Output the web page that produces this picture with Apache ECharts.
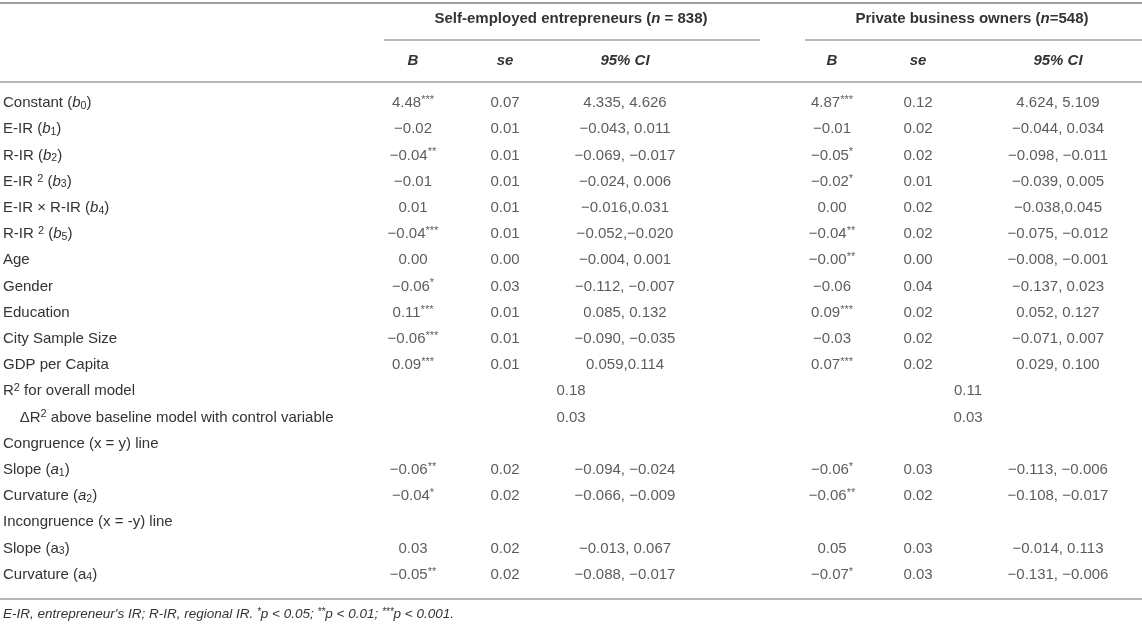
<!DOCTYPE html>
<html>
<head>
<meta charset="utf-8">
<script src="https://cdn.jsdelivr.net/npm/echarts/dist/echarts.min.js"></script>
<style>html,body{margin:0;padding:0;background:#fff}#c{width:1142px;height:626px}</style>
</head>
<body>
<div id="c"></div>
<script>
// ---------- data ----------
const ROW_LABELS = [
  'Constant ({i|b}{sub|0})',
  'E-IR ({i|b}{sub|1})',
  'R-IR ({i|b}{sub|2})',
  'E-IR {sup|2} ({i|b}{sub|3})',
  'E-IR × R-IR ({i|b}{sub|4})',
  'R-IR {sup|2} ({i|b}{sub|5})',
  'Age',
  'Gender',
  'Education',
  'City Sample Size',
  'GDP per Capita',
  'R{sup|2} for overall model',
  '    ΔR{sup|2} above baseline model with control variable',
  'Congruence (x = y) line',
  'Slope ({i|a}{sub|1})',
  'Curvature ({i|a}{sub|2})',
  'Incongruence (x = -y) line',
  'Slope (a{sub|3})',
  'Curvature (a{sub|4})'
];
const GROUPS = ['Self-employed entrepreneurs ({bi|n} = 838)', 'Private business owners ({bi|n}=548)'];
const SUBHEADS = ['B', 'se', '95% CI'];

const B_SELF   = ['4.48','−0.02','−0.04','−0.01','0.01','−0.04','0.00','−0.06','0.11','−0.06','0.09','','','','−0.06','−0.04','','0.03','−0.05'];
const SIG_SELF = [3,0,2,0,0,3,0,1,3,3,3,0,0,0,2,1,0,0,2];
const SE_SELF  = ['0.07','0.01','0.01','0.01','0.01','0.01','0.00','0.03','0.01','0.01','0.01','','','','0.02','0.02','','0.02','0.02'];
const CI_SELF  = ['4.335, 4.626','−0.043, 0.011','−0.069, −0.017','−0.024, 0.006','−0.016,0.031','−0.052,−0.020','−0.004, 0.001','−0.112, −0.007','0.085, 0.132','−0.090, −0.035','0.059,0.114','','','','−0.094, −0.024','−0.066, −0.009','','−0.013, 0.067','−0.088, −0.017'];

const B_PRIV   = ['4.87','−0.01','−0.05','−0.02','0.00','−0.04','−0.00','−0.06','0.09','−0.03','0.07','','','','−0.06','−0.06','','0.05','−0.07'];
const SIG_PRIV = [3,0,1,1,0,2,2,0,3,0,3,0,0,0,1,2,0,0,1];
const SE_PRIV  = ['0.12','0.02','0.02','0.01','0.02','0.02','0.00','0.04','0.02','0.02','0.02','','','','0.03','0.02','','0.03','0.03'];
const CI_PRIV  = ['4.624, 5.109','−0.044, 0.034','−0.098, −0.011','−0.039, 0.005','−0.038,0.045','−0.075, −0.012','−0.008, −0.001','−0.137, 0.023','0.052, 0.127','−0.071, 0.007','0.029, 0.100','','','','−0.113, −0.006','−0.108, −0.017','','−0.014, 0.113','−0.131, −0.006'];

const R2_ROWS = [11, 12];
const R2_SELF = ['0.18', '0.03'];
const R2_PRIV = ['0.11', '0.03'];

const FOOTNOTE = 'E-IR, entrepreneur\'s IR; R-IR, regional IR. {fs|*}p < 0.05; {fs|**}p < 0.01; {fs|***}p < 0.001.';

// ---------- layout ----------
const W = 1142, H = 626;
const FONT = '"Liberation Sans", Arial, Helvetica, sans-serif';
const FS = 15;
const TXT = '#333333';
const RULE = '#a0a0a0';
const COL_X = [413, 505, 625, 832, 918, 1058];
const R2_X = [571, 968];
const GROUP_X = [571, 972];
const GROUP_LINE = [[384, 760], [805, 1142]];
const Y_TOP = 3, Y_GROUP = 19, Y_GLINE = 40, Y_SUB = 61, Y_HLINE = 82, Y_BOT = 599, Y_FOOT = 614;
const ROW_H = 26.2, FIRST_ROW = 103;
const GRID_TOP = FIRST_ROW - ROW_H / 2;

const RICH = {
  i:   { fontFamily: FONT, fontSize: FS, fontStyle: 'italic', color: TXT, lineHeight: 17 },
  sub: { fontFamily: FONT, fontSize: 10.5, color: TXT, lineHeight: 8, verticalAlign: 'bottom' },
  sup: { fontFamily: FONT, fontSize: 11, color: TXT, lineHeight: 10, verticalAlign: 'top' },
  bi:  { fontFamily: FONT, fontSize: FS, fontStyle: 'italic', fontWeight: 'bold', color: TXT, lineHeight: 17 },
  fs:  { fontFamily: FONT, fontSize: 10, fontStyle: 'italic', color: TXT, lineHeight: 10, verticalAlign: 'top' }
};

function stars(n) { return n > 0 ? '{sup|' + '*'.repeat(n) + '}' : ''; }

const columns = [
  B_SELF.map((v, i) => v ? v + stars(SIG_SELF[i]) : ''),
  SE_SELF,
  CI_SELF,
  B_PRIV.map((v, i) => v ? v + stars(SIG_PRIV[i]) : ''),
  SE_PRIV,
  CI_PRIV
];

const cells = [];
columns.forEach((col, c) => {
  col.forEach((t, r) => { if (t) cells.push({ value: [COL_X[c], r], txt: t }); });
});
R2_ROWS.forEach((r, k) => {
  cells.push({ value: [R2_X[0], r], txt: R2_SELF[k] });
  cells.push({ value: [R2_X[1], r], txt: R2_PRIV[k] });
});

// ---------- graphic (rules & headers) ----------
const rule = (x1, y, x2, w) => ({
  type: 'line', silent: true,
  shape: { x1: x1, y1: y, x2: x2, y2: y },
  style: { stroke: RULE, lineWidth: w || 1.5 }
});
const text = (t, x, y, extra) => ({
  type: 'text', silent: true, x: x, y: y,
  style: Object.assign({
    text: t, fill: TXT, fontFamily: FONT, fontSize: FS,
    align: 'center', verticalAlign: 'middle', rich: RICH
  }, extra || {})
});

const graphics = [
  rule(0, Y_TOP, W, 2),
  rule(GROUP_LINE[0][0], Y_GLINE, GROUP_LINE[0][1]),
  rule(GROUP_LINE[1][0], Y_GLINE, GROUP_LINE[1][1]),
  rule(0, Y_HLINE, W),
  rule(0, Y_BOT, W),
  text(GROUPS[0], GROUP_X[0], Y_GROUP, { fontWeight: 'bold' }),
  text(GROUPS[1], GROUP_X[1], Y_GROUP, { fontWeight: 'bold' }),
  text(FOOTNOTE, 3, Y_FOOT, { align: 'left', fontStyle: 'italic', fontSize: 13.5 })
];
COL_X.forEach((x, c) => {
  graphics.push(text(SUBHEADS[c % 3], x, Y_SUB, { fontWeight: 'bold', fontStyle: 'italic' }));
});

// ---------- chart ----------
const chart = echarts.init(document.getElementById('c'), null, { renderer: 'canvas' });
chart.setOption({
  animation: false,
  backgroundColor: '#ffffff',
  grid: { left: 0, right: 0, top: GRID_TOP, height: ROW_H * ROW_LABELS.length, containLabel: false },
  xAxis: { type: 'value', min: 0, max: W, show: false },
  yAxis: {
    type: 'category', inverse: true, data: ROW_LABELS,
    axisLine: { show: false }, axisTick: { show: false }, splitLine: { show: false },
    axisLabel: {
      interval: 0, align: 'left', margin: -3,
      color: TXT, fontFamily: FONT, fontSize: FS, lineHeight: 17, rich: RICH
    }
  },
  series: [{
    type: 'scatter', symbolSize: 0, silent: true,
    data: cells,
    label: {
      show: true, position: 'inside', align: 'center', verticalAlign: 'middle',
      color: TXT, fontFamily: FONT, fontSize: FS, lineHeight: 17, rich: RICH,
      formatter: p => p.data.txt
    }
  }],
  graphic: graphics
});
</script>
</body>
</html>
